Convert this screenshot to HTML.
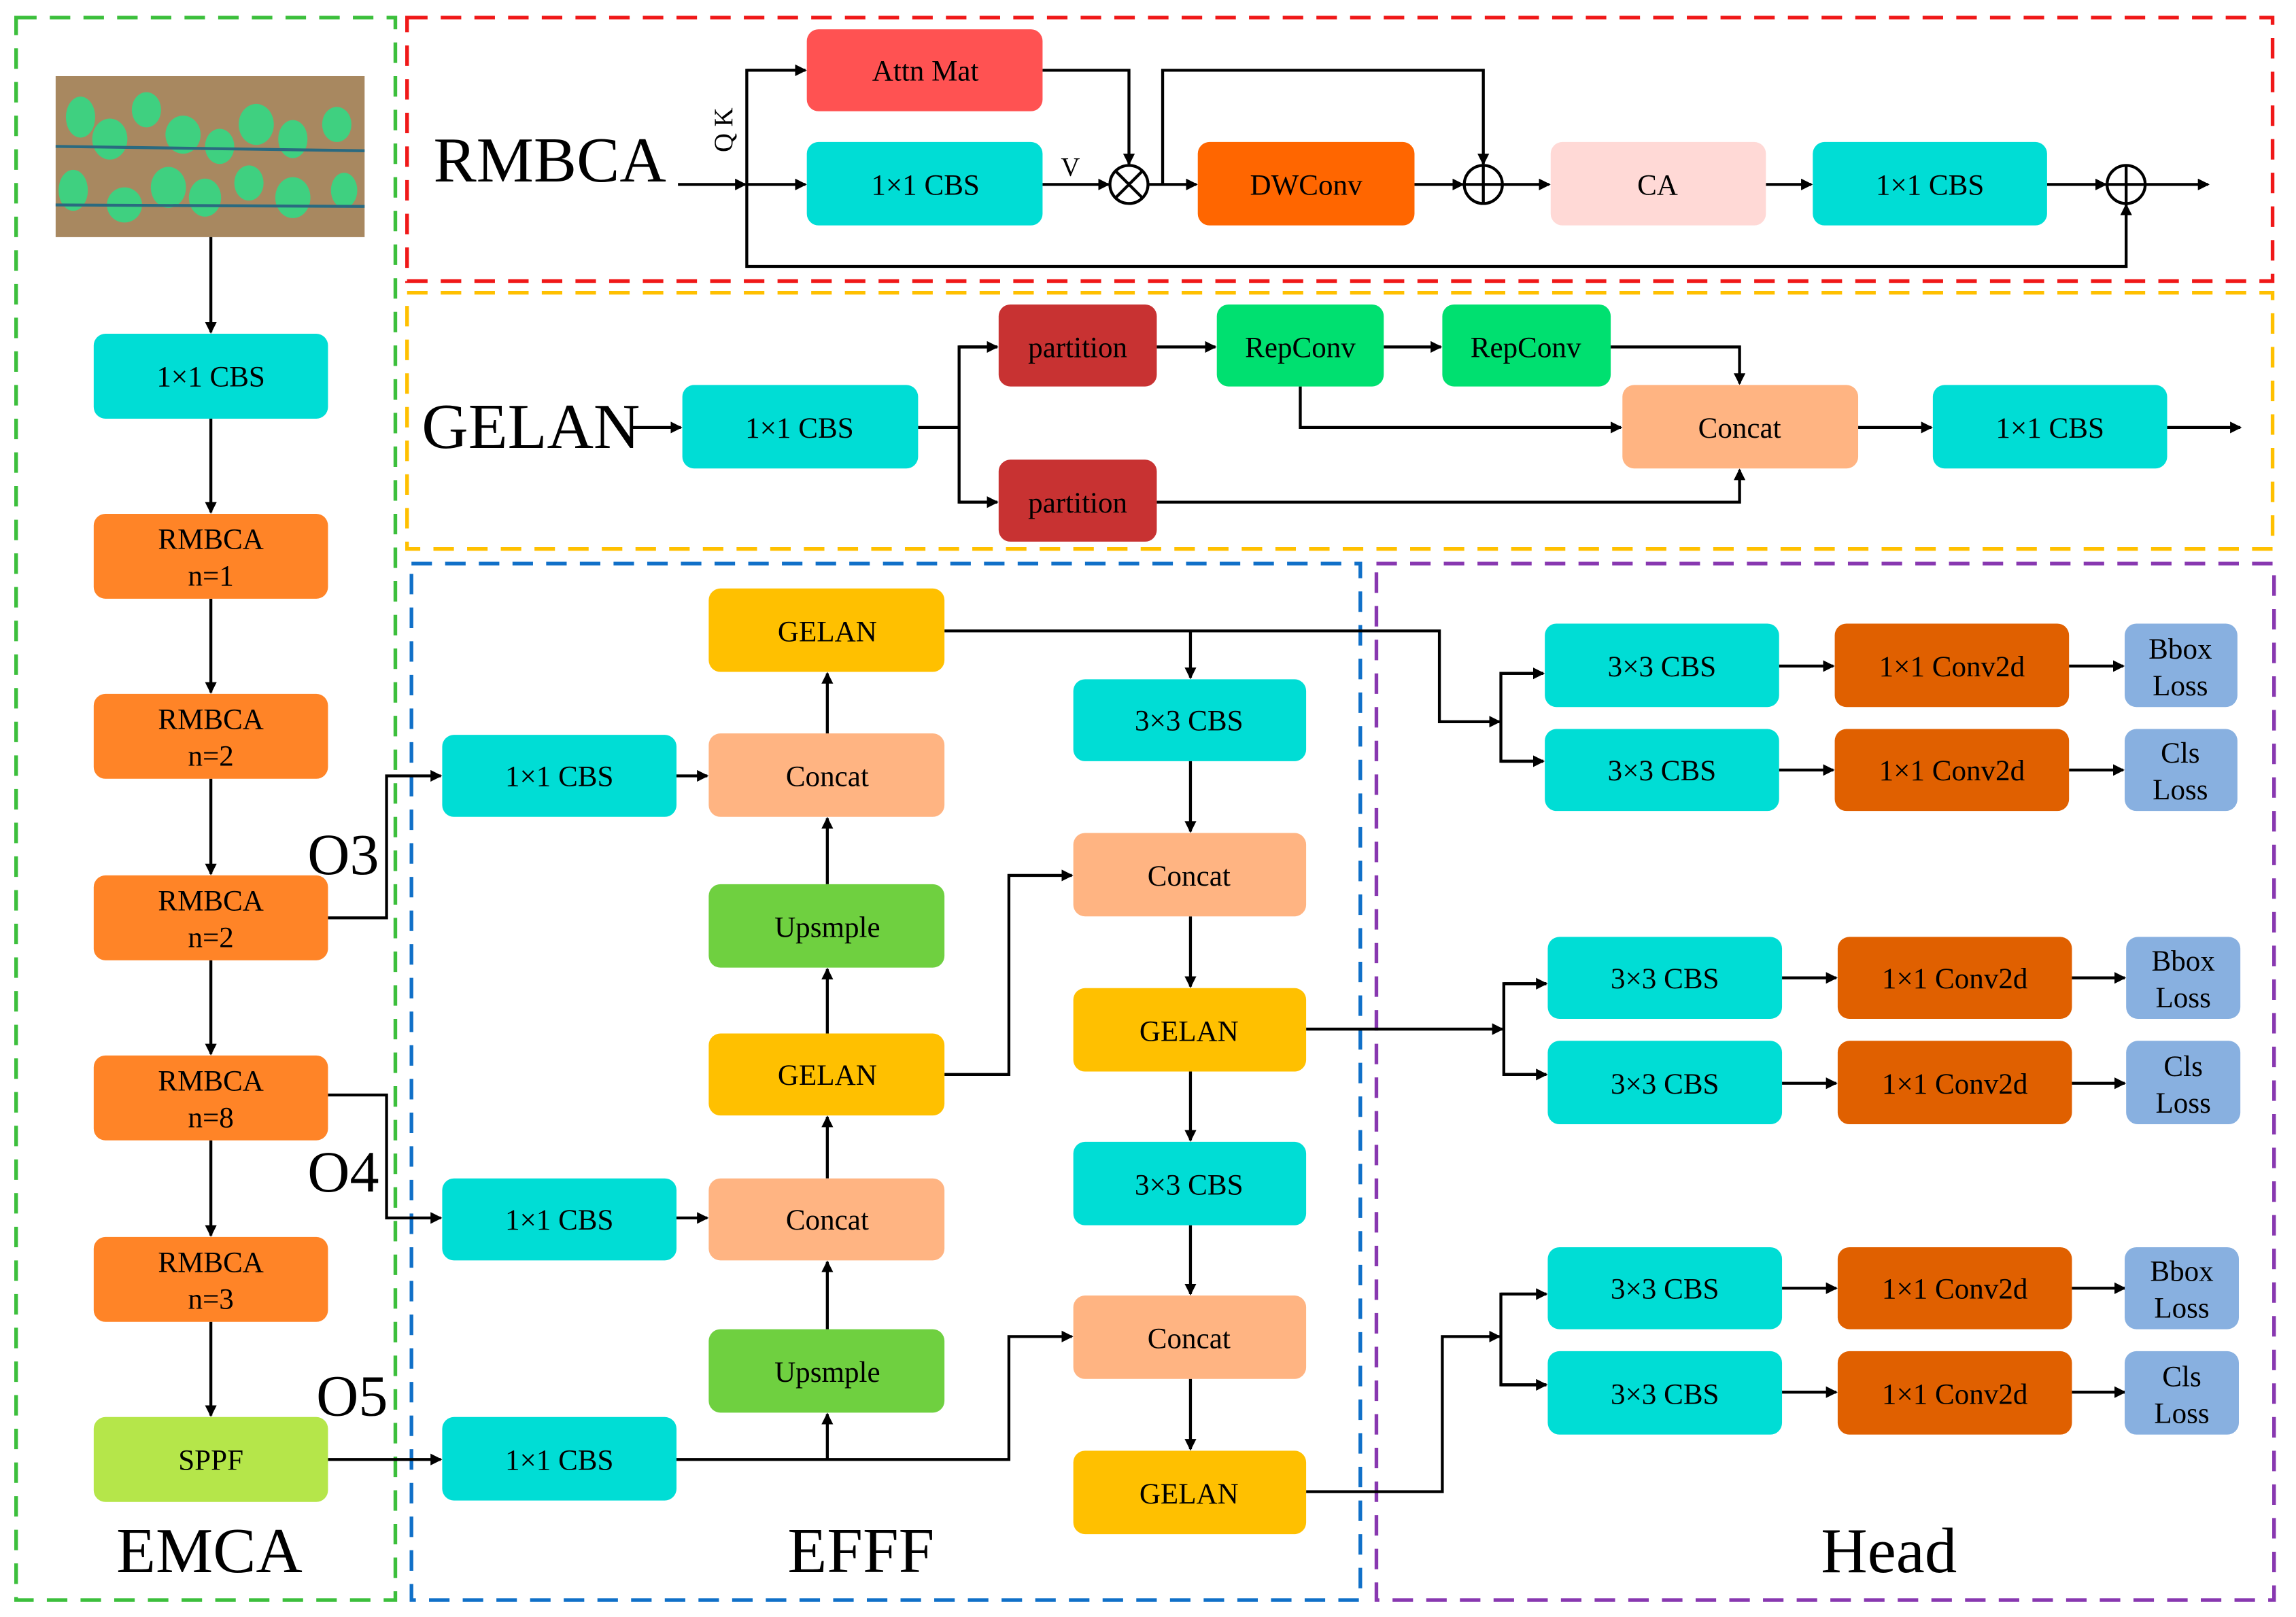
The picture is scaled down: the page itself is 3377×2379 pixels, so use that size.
<!DOCTYPE html>
<html><head><meta charset="utf-8"><style>
html,body{margin:0;padding:0;background:#fff}
svg{display:block}
svg text{font-family:"Liberation Serif","DejaVu Serif",serif;fill:#000}
</style></head><body>
<svg width="3377" height="2379" viewBox="0 0 1568 1104.6" preserveAspectRatio="none" xmlns="http://www.w3.org/2000/svg" font-family="Liberation Serif, serif">
<defs>
<marker id="a" markerWidth="8" markerHeight="8" refX="7" refY="4" orient="auto" markerUnits="userSpaceOnUse">
<path d="M0,0 L8,4 L0,8 Z" fill="#000"/></marker>
</defs>
<rect width="1568" height="1104.6" fill="#fff"/>
<g fill="none" stroke-width="2.5" stroke-dasharray="14,9">
<rect x="11" y="12" width="259" height="1081" stroke="#3CBF3C"/>
<rect x="278" y="12" width="1274" height="180" stroke="#F01818"/>
<rect x="278" y="200" width="1274" height="175" stroke="#FFC000"/>
<rect x="281" y="385" width="648" height="708" stroke="#1070C8"/>
<rect x="940" y="385" width="613" height="708" stroke="#8838B0"/>
</g>
<rect x="38" y="52" width="211" height="110" fill="#A88860"/>
<g fill="#3FD080">
<ellipse cx="55" cy="80" rx="10" ry="14"/><ellipse cx="75" cy="95" rx="12" ry="14"/><ellipse cx="100" cy="75" rx="10" ry="12"/>
<ellipse cx="125" cy="92" rx="12" ry="13"/><ellipse cx="150" cy="100" rx="10" ry="12"/><ellipse cx="175" cy="85" rx="12" ry="14"/>
<ellipse cx="200" cy="95" rx="10" ry="13"/><ellipse cx="230" cy="85" rx="10" ry="12"/>
<ellipse cx="50" cy="130" rx="10" ry="14"/><ellipse cx="85" cy="140" rx="12" ry="12"/><ellipse cx="115" cy="128" rx="12" ry="14"/>
<ellipse cx="140" cy="135" rx="11" ry="13"/><ellipse cx="170" cy="125" rx="10" ry="12"/><ellipse cx="200" cy="135" rx="12" ry="14"/>
<ellipse cx="235" cy="130" rx="9" ry="12"/>
</g>
<line x1="38" y1="100" x2="249" y2="103" stroke="#2A6A80" stroke-width="2"/>
<line x1="38" y1="140" x2="249" y2="141" stroke="#2A6A80" stroke-width="2"/>

<g stroke="#000" stroke-width="2" fill="none">
<line x1="144" y1="162" x2="144" y2="227" marker-end="url(#a)"/>
<line x1="144" y1="286" x2="144" y2="350" marker-end="url(#a)"/>
<line x1="144" y1="409" x2="144" y2="473" marker-end="url(#a)"/>
<line x1="144" y1="532" x2="144" y2="597" marker-end="url(#a)"/>
<line x1="144" y1="656" x2="144" y2="720" marker-end="url(#a)"/>
<line x1="144" y1="779" x2="144" y2="844" marker-end="url(#a)"/>
<line x1="144" y1="903" x2="144" y2="967" marker-end="url(#a)"/>
<polyline points="224,627 264,627 264,530 301,530" marker-end="url(#a)"/>
<polyline points="224,748 264,748 264,832 301,832" marker-end="url(#a)"/>
<line x1="224" y1="997" x2="301" y2="997" marker-end="url(#a)"/>
<line x1="463" y1="126" x2="509" y2="126" marker-end="url(#a)"/>
<polyline points="550,48 510,48 510,182 1452,182 1452,140" marker-end="url(#a)"/>
<line x1="510" y1="48" x2="550" y2="48" marker-end="url(#a)"/>
<line x1="510" y1="126" x2="550" y2="126" marker-end="url(#a)"/>
<polyline points="712,48 771,48 771,112" marker-end="url(#a)"/>
<line x1="712" y1="126" x2="757" y2="126" marker-end="url(#a)"/>
<line x1="784" y1="126" x2="817" y2="126" marker-end="url(#a)"/>
<polyline points="794,126 794,48 1013,48 1013,112" marker-end="url(#a)"/>
<line x1="966" y1="126" x2="999" y2="126" marker-end="url(#a)"/>
<line x1="1026" y1="126" x2="1058" y2="126" marker-end="url(#a)"/>
<line x1="1206" y1="126" x2="1237" y2="126" marker-end="url(#a)"/>
<line x1="1398" y1="126" x2="1438" y2="126" marker-end="url(#a)"/>
<line x1="1465" y1="126" x2="1508" y2="126" marker-end="url(#a)"/>
<line x1="432" y1="292" x2="465" y2="292" marker-end="url(#a)"/>
<line x1="627" y1="292" x2="655" y2="292"/>
<polyline points="681,237 655,237 655,343 681,343" />
<line x1="655" y1="237" x2="681" y2="237" marker-end="url(#a)"/>
<line x1="655" y1="343" x2="681" y2="343" marker-end="url(#a)"/>
<line x1="790" y1="237" x2="830" y2="237" marker-end="url(#a)"/>
<line x1="945" y1="237" x2="984" y2="237" marker-end="url(#a)"/>
<polyline points="1100,237 1188,237 1188,262" marker-end="url(#a)"/>
<polyline points="888,264 888,292 1107,292" marker-end="url(#a)"/>
<polyline points="790,343 1188,343 1188,321" marker-end="url(#a)"/>
<line x1="1269" y1="292" x2="1319" y2="292" marker-end="url(#a)"/>
<line x1="1480" y1="292" x2="1530" y2="292" marker-end="url(#a)"/>
<line x1="462" y1="530" x2="483" y2="530" marker-end="url(#a)"/>
<line x1="462" y1="832" x2="483" y2="832" marker-end="url(#a)"/>
<line x1="565" y1="501" x2="565" y2="460" marker-end="url(#a)"/>
<line x1="565" y1="604" x2="565" y2="559" marker-end="url(#a)"/>
<line x1="565" y1="706" x2="565" y2="662" marker-end="url(#a)"/>
<line x1="565" y1="805" x2="565" y2="763" marker-end="url(#a)"/>
<line x1="565" y1="908" x2="565" y2="862" marker-end="url(#a)"/>
<line x1="565" y1="997" x2="565" y2="966" marker-end="url(#a)"/>
<polyline points="462,997 689,997 689,913 732,913" marker-end="url(#a)"/>
<polyline points="645,734 689,734 689,598 732,598" marker-end="url(#a)"/>
<polyline points="645,431 983,431 983,493 1024,493" marker-end="url(#a)"/>
<line x1="813" y1="431" x2="813" y2="463" marker-end="url(#a)"/>
<line x1="813" y1="520" x2="813" y2="568" marker-end="url(#a)"/>
<line x1="813" y1="626" x2="813" y2="674" marker-end="url(#a)"/>
<line x1="813" y1="732" x2="813" y2="779" marker-end="url(#a)"/>
<line x1="813" y1="837" x2="813" y2="884" marker-end="url(#a)"/>
<line x1="813" y1="942" x2="813" y2="990" marker-end="url(#a)"/>
<line x1="892" y1="703" x2="1026" y2="703" marker-end="url(#a)"/>
<polyline points="892,1019 985,1019 985,913 1024,913" marker-end="url(#a)"/>
<polyline points="1054,460 1025,460 1025,520 1054,520"/>
<line x1="1025" y1="460" x2="1054" y2="460" marker-end="url(#a)"/>
<line x1="1025" y1="520" x2="1054" y2="520" marker-end="url(#a)"/>
<polyline points="1056,672 1027,672 1027,734 1056,734"/>
<line x1="1027" y1="672" x2="1056" y2="672" marker-end="url(#a)"/>
<line x1="1027" y1="734" x2="1056" y2="734" marker-end="url(#a)"/>
<polyline points="1056,884 1025,884 1025,946 1056,946"/>
<line x1="1025" y1="884" x2="1056" y2="884" marker-end="url(#a)"/>
<line x1="1025" y1="946" x2="1056" y2="946" marker-end="url(#a)"/>
<line x1="1215" y1="455" x2="1252" y2="455" marker-end="url(#a)"/>
<line x1="1413" y1="455" x2="1450" y2="455" marker-end="url(#a)"/>
<line x1="1215" y1="526" x2="1252" y2="526" marker-end="url(#a)"/>
<line x1="1413" y1="526" x2="1450" y2="526" marker-end="url(#a)"/>
<line x1="1217" y1="668" x2="1254" y2="668" marker-end="url(#a)"/>
<line x1="1415" y1="668" x2="1451" y2="668" marker-end="url(#a)"/>
<line x1="1217" y1="740" x2="1254" y2="740" marker-end="url(#a)"/>
<line x1="1415" y1="740" x2="1451" y2="740" marker-end="url(#a)"/>
<line x1="1217" y1="880" x2="1254" y2="880" marker-end="url(#a)"/>
<line x1="1415" y1="880" x2="1451" y2="880" marker-end="url(#a)"/>
<line x1="1217" y1="951" x2="1254" y2="951" marker-end="url(#a)"/>
<line x1="1415" y1="951" x2="1451" y2="951" marker-end="url(#a)"/>
</g>
<g stroke="#000" stroke-width="2" fill="#fff">
<circle cx="771" cy="126" r="13"/><circle cx="1013" cy="126" r="13"/><circle cx="1452" cy="126" r="13"/>
</g>
<g stroke="#000" stroke-width="2">
<line x1="762" y1="117" x2="780" y2="135"/><line x1="780" y1="117" x2="762" y2="135"/>
<line x1="1000" y1="126" x2="1026" y2="126"/><line x1="1013" y1="113" x2="1013" y2="139"/>
<line x1="1439" y1="126" x2="1465" y2="126"/><line x1="1452" y1="113" x2="1452" y2="139"/>
</g>

<g font-size="20" text-anchor="middle" font-family="Liberation Serif, serif">
<rect x="64" y="228" width="160" height="58" rx="8" fill="#00DDD5"/><text x="144" y="264">1×1 CBS</text>
<rect x="64" y="351" width="160" height="58" rx="8" fill="#FF8427"/><text x="144" y="375">RMBCA</text><text x="144" y="400">n=1</text>
<rect x="64" y="474" width="160" height="58" rx="8" fill="#FF8427"/><text x="144" y="498">RMBCA</text><text x="144" y="523">n=2</text>
<rect x="64" y="598" width="160" height="58" rx="8" fill="#FF8427"/><text x="144" y="622">RMBCA</text><text x="144" y="647">n=2</text>
<rect x="64" y="721" width="160" height="58" rx="8" fill="#FF8427"/><text x="144" y="745">RMBCA</text><text x="144" y="770">n=8</text>
<rect x="64" y="845" width="160" height="58" rx="8" fill="#FF8427"/><text x="144" y="869">RMBCA</text><text x="144" y="894">n=3</text>
<rect x="64" y="968" width="160" height="58" rx="8" fill="#B5E64A"/><text x="144" y="1004">SPPF</text>
<rect x="551" y="20" width="161" height="56" rx="8" fill="#FF5252"/><text x="632" y="55">Attn Mat</text>
<rect x="551" y="97" width="161" height="57" rx="8" fill="#00DDD5"/><text x="632" y="133">1×1 CBS</text>
<rect x="818" y="97" width="148" height="57" rx="8" fill="#FF6600"/><text x="892" y="133">DWConv</text>
<rect x="1059" y="97" width="147" height="57" rx="8" fill="#FFD9D6"/><text x="1132" y="133">CA</text>
<rect x="1238" y="97" width="160" height="57" rx="8" fill="#00DDD5"/><text x="1318" y="133">1×1 CBS</text>
<rect x="466" y="263" width="161" height="57" rx="8" fill="#00DDD5"/><text x="546" y="299">1×1 CBS</text>
<rect x="682" y="208" width="108" height="56" rx="8" fill="#C83232"/><text x="736" y="244">partition</text>
<rect x="682" y="314" width="108" height="56" rx="8" fill="#C83232"/><text x="736" y="350">partition</text>
<rect x="831" y="208" width="114" height="56" rx="8" fill="#00E070"/><text x="888" y="244">RepConv</text>
<rect x="985" y="208" width="115" height="56" rx="8" fill="#00E070"/><text x="1042" y="244">RepConv</text>
<rect x="1108" y="263" width="161" height="57" rx="8" fill="#FFB482"/><text x="1188" y="299">Concat</text>
<rect x="1320" y="263" width="160" height="57" rx="8" fill="#00DDD5"/><text x="1400" y="299">1×1 CBS</text>
<rect x="302" y="502" width="160" height="56" rx="8" fill="#00DDD5"/><text x="382" y="537">1×1 CBS</text>
<rect x="302" y="805" width="160" height="56" rx="8" fill="#00DDD5"/><text x="382" y="840">1×1 CBS</text>
<rect x="302" y="968" width="160" height="57" rx="8" fill="#00DDD5"/><text x="382" y="1004">1×1 CBS</text>
<rect x="484" y="402" width="161" height="57" rx="8" fill="#FFC000"/><text x="565" y="438">GELAN</text>
<rect x="484" y="501" width="161" height="57" rx="8" fill="#FFB482"/><text x="565" y="537">Concat</text>
<rect x="484" y="604" width="161" height="57" rx="8" fill="#6FD040"/><text x="565" y="640">Upsmple</text>
<rect x="484" y="706" width="161" height="56" rx="8" fill="#FFC000"/><text x="565" y="741">GELAN</text>
<rect x="484" y="805" width="161" height="56" rx="8" fill="#FFB482"/><text x="565" y="840">Concat</text>
<rect x="484" y="908" width="161" height="57" rx="8" fill="#6FD040"/><text x="565" y="944">Upsmple</text>
<rect x="733" y="464" width="159" height="56" rx="8" fill="#00DDD5"/><text x="812" y="499">3×3 CBS</text>
<rect x="733" y="569" width="159" height="57" rx="8" fill="#FFB482"/><text x="812" y="605">Concat</text>
<rect x="733" y="675" width="159" height="57" rx="8" fill="#FFC000"/><text x="812" y="711">GELAN</text>
<rect x="733" y="780" width="159" height="57" rx="8" fill="#00DDD5"/><text x="812" y="816">3×3 CBS</text>
<rect x="733" y="885" width="159" height="57" rx="8" fill="#FFB482"/><text x="812" y="921">Concat</text>
<rect x="733" y="991" width="159" height="57" rx="8" fill="#FFC000"/><text x="812" y="1027">GELAN</text>
<rect x="1055" y="426" width="160" height="57" rx="8" fill="#00DDD5"/><text x="1135" y="462">3×3 CBS</text>
<rect x="1055" y="498" width="160" height="56" rx="8" fill="#00DDD5"/><text x="1135" y="533">3×3 CBS</text>
<rect x="1253" y="426" width="160" height="57" rx="8" fill="#E06000"/><text x="1333" y="462">1×1 Conv2d</text>
<rect x="1253" y="498" width="160" height="56" rx="8" fill="#E06000"/><text x="1333" y="533">1×1 Conv2d</text>
<rect x="1451" y="426" width="77" height="57" rx="8" fill="#88B0E0"/><text x="1489" y="450">Bbox</text><text x="1489" y="475">Loss</text>
<rect x="1451" y="498" width="77" height="56" rx="8" fill="#88B0E0"/><text x="1489" y="521">Cls</text><text x="1489" y="546">Loss</text>
<rect x="1057" y="640" width="160" height="56" rx="8" fill="#00DDD5"/><text x="1137" y="675">3×3 CBS</text>
<rect x="1057" y="711" width="160" height="57" rx="8" fill="#00DDD5"/><text x="1137" y="747">3×3 CBS</text>
<rect x="1255" y="640" width="160" height="56" rx="8" fill="#E06000"/><text x="1335" y="675">1×1 Conv2d</text>
<rect x="1255" y="711" width="160" height="57" rx="8" fill="#E06000"/><text x="1335" y="747">1×1 Conv2d</text>
<rect x="1452" y="640" width="78" height="56" rx="8" fill="#88B0E0"/><text x="1491" y="663">Bbox</text><text x="1491" y="688">Loss</text>
<rect x="1452" y="711" width="78" height="57" rx="8" fill="#88B0E0"/><text x="1491" y="735">Cls</text><text x="1491" y="760">Loss</text>
<rect x="1057" y="852" width="160" height="56" rx="8" fill="#00DDD5"/><text x="1137" y="887">3×3 CBS</text>
<rect x="1057" y="923" width="160" height="57" rx="8" fill="#00DDD5"/><text x="1137" y="959">3×3 CBS</text>
<rect x="1255" y="852" width="160" height="56" rx="8" fill="#E06000"/><text x="1335" y="887">1×1 Conv2d</text>
<rect x="1255" y="923" width="160" height="57" rx="8" fill="#E06000"/><text x="1335" y="959">1×1 Conv2d</text>
<rect x="1451" y="852" width="78" height="56" rx="8" fill="#88B0E0"/><text x="1490" y="875">Bbox</text><text x="1490" y="900">Loss</text>
<rect x="1451" y="923" width="78" height="57" rx="8" fill="#88B0E0"/><text x="1490" y="947">Cls</text><text x="1490" y="972">Loss</text>
</g>
<text x="731" y="120" font-size="18" text-anchor="middle">V</text>
<text x="0" y="0" font-size="18" transform="translate(500,104) rotate(-90)">Q K</text>
<g font-size="44">
<text x="296" y="124">RMBCA</text>
<text x="288" y="306">GELAN</text>
<text x="210" y="597" font-size="40">O3</text>
<text x="210" y="814" font-size="40">O4</text>
<text x="216" y="967" font-size="40">O5</text>
<text x="143" y="1074" text-anchor="middle">EMCA</text>
<text x="588" y="1074" text-anchor="middle">EFFF</text>
<text x="1290" y="1074" text-anchor="middle">Head</text>
</g>
</svg>
</body></html>
